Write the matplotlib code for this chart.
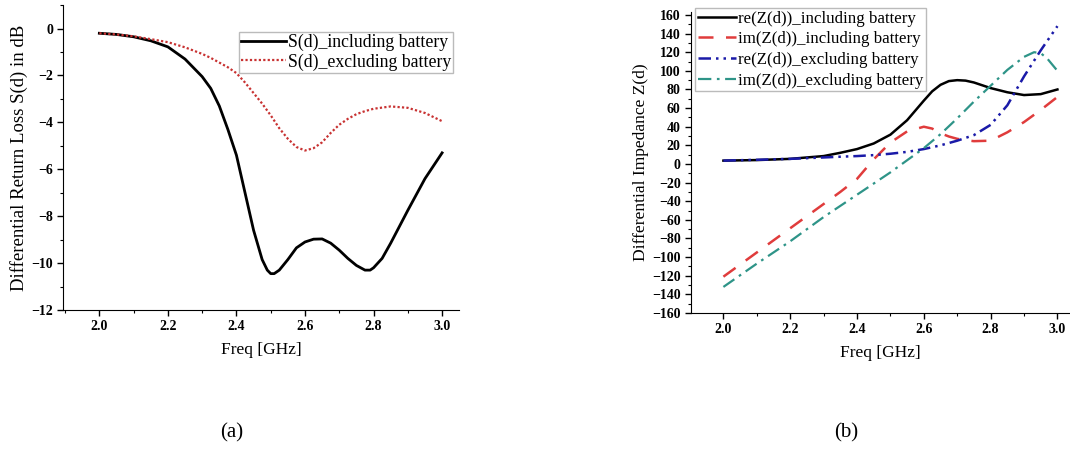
import matplotlib
matplotlib.use('Agg')
import matplotlib.pyplot as plt
from matplotlib.ticker import MultipleLocator

plt.rcParams['font.family'] = 'Liberation Serif'

# (a) differential return loss
freq_a = [2.0, 2.05, 2.1, 2.15, 2.2, 2.25, 2.3, 2.325, 2.35, 2.375, 2.4, 2.425, 2.45, 2.475,
          2.49, 2.5, 2.51, 2.525, 2.55, 2.575, 2.6, 2.625, 2.65, 2.675, 2.7, 2.725, 2.75,
          2.775, 2.79, 2.8, 2.825, 2.85, 2.9, 2.95, 3.0]
s_incl = [-0.2, -0.25, -0.35, -0.52, -0.78, -1.3, -2.05, -2.55, -3.3, -4.3, -5.4, -7.0, -8.6, -9.85,
          -10.3, -10.45, -10.45, -10.3, -9.85, -9.35, -9.1, -8.98, -8.97, -9.15, -9.45, -9.8, -10.1,
          -10.3, -10.3, -10.2, -9.8, -9.15, -7.75, -6.4, -5.3]
s_excl = [-0.2, -0.25, -0.33, -0.45, -0.58, -0.8, -1.08, -1.25, -1.45, -1.65, -1.9, -2.3, -2.75, -3.2,
          -3.5, -3.7, -3.92, -4.25, -4.7, -5.05, -5.2, -5.1, -4.85, -4.45, -4.1, -3.85, -3.65,
          -3.52, -3.46, -3.42, -3.37, -3.32, -3.38, -3.6, -3.95]

# (b) differential impedance
freq_b = [2.0, 2.1, 2.2, 2.3, 2.35, 2.4, 2.45, 2.5, 2.55, 2.6, 2.625, 2.65, 2.675, 2.7, 2.725,
          2.75, 2.8, 2.85, 2.9, 2.95, 3.0]
re_incl = [3.6, 4.2, 5.5, 8.5, 12, 16, 22, 31.5, 47, 68, 78, 85, 89, 90, 89.5,
           87.5, 81.5, 77, 74, 75, 80]
im_incl = [-121, -95, -69, -43, -30, -16, 5, 23, 35, 40, 38, 33, 29.5, 27, 25.5,
           24.5, 25, 34, 45, 58, 72]
re_excl = [3.6, 4.5, 5.5, 7, 7.8, 8.5, 9.5, 11, 13, 16, 18, 20, 22.5, 25, 28,
           31, 42, 63, 94, 122, 148]
freq_im_excl = [2.0, 2.1, 2.2, 2.3, 2.4, 2.5, 2.55, 2.6, 2.65, 2.7, 2.75, 2.8, 2.85, 2.9,
                2.93, 2.95, 2.97, 3.0]
im_excl = [-132, -107, -83, -57, -33, -9, 4, 17, 32, 49, 67, 84, 101, 115, 120, 119, 113, 100]

fig = plt.figure(figsize=(10.7, 4.49), dpi=100)
ax1 = fig.add_axes([0.0592, 0.3096, 0.370, 0.679])
ax2 = fig.add_axes([0.6458, 0.3029, 0.354, 0.670])

ax1.plot(freq_a, s_incl, color='black', lw=2, label='S(d)_including battery')
ax1.plot(freq_a, s_excl, color='#c83232', lw=1.6, linestyle=(0, (1, 1)), label='S(d)_excluding battery')
ax1.set_xlim(1.895, 3.05)
ax1.set_ylim(-12, 1)
ax1.yaxis.set_major_locator(MultipleLocator(2))
ax1.yaxis.set_minor_locator(MultipleLocator(1))
ax1.set_ylabel('Differential Return Loss S(d) in dB', fontsize=13.5, labelpad=2)
ax1.legend(loc='upper right', bbox_to_anchor=(0.4234, 0.9287), bbox_transform=fig.transFigure,
           fontsize=12.8, frameon=True, fancybox=False, edgecolor='#aaaaaa', handlelength=2.5,
           handletextpad=0.1, borderpad=0.12, labelspacing=0.1, borderaxespad=0)

ax2.plot(freq_b, re_incl, color='black', lw=1.8, label='re(Z(d))_including battery')
ax2.plot(freq_b, im_incl, color='#e03c3c', lw=1.8, linestyle=(0, (6, 5)), label='im(Z(d))_including battery')
ax2.plot(freq_b, re_excl, color='#1a1aa8', lw=1.8, linestyle=(0, (5, 2, 1, 2, 1, 2)),
         label='re(Z(d))_excluding battery')
ax2.plot(freq_im_excl, im_excl, color='#2e9488', lw=1.6, linestyle=(0, (6, 2.5, 1.2, 2.5)),
         label='im(Z(d))_excluding battery')
ax2.set_xlim(1.903, 3.037)
ax2.set_ylim(-160, 163)
ax2.yaxis.set_major_locator(MultipleLocator(20))
ax2.yaxis.set_minor_locator(MultipleLocator(10))
ax2.set_ylabel('Differential Impedance Z(d)', fontsize=12.6, labelpad=2)
ax2.legend(loc='upper left', bbox_to_anchor=(0.6495, 0.982), bbox_transform=fig.transFigure,
           fontsize=12.2, frameon=True, fancybox=False, edgecolor='#aaaaaa', handlelength=2.3,
           handletextpad=0.1, borderpad=0.15, labelspacing=0.28, borderaxespad=0)

for ax in (ax1, ax2):
    ax.spines['top'].set_visible(False)
    ax.spines['right'].set_visible(False)
    ax.xaxis.set_major_locator(MultipleLocator(0.2))
    ax.xaxis.set_minor_locator(MultipleLocator(0.1))
    ax.xaxis.set_major_formatter(plt.FormatStrFormatter('%.1f'))
    ax.tick_params(direction='out', length=4, width=1, labelsize=10)
    ax.tick_params(which='minor', direction='out', length=2.5, width=0.8)
    for lab in ax.get_xticklabels() + ax.get_yticklabels():
        lab.set_fontweight('bold')
    ax.set_xlabel('Freq [GHz]', fontsize=12.5, labelpad=6)

fig.text(0.2168, 0.035, '(a)', ha='center', va='center', fontsize=15)
fig.text(0.7907, 0.035, '(b)', ha='center', va='center', fontsize=15)

fig.savefig('out.png', dpi=100)
